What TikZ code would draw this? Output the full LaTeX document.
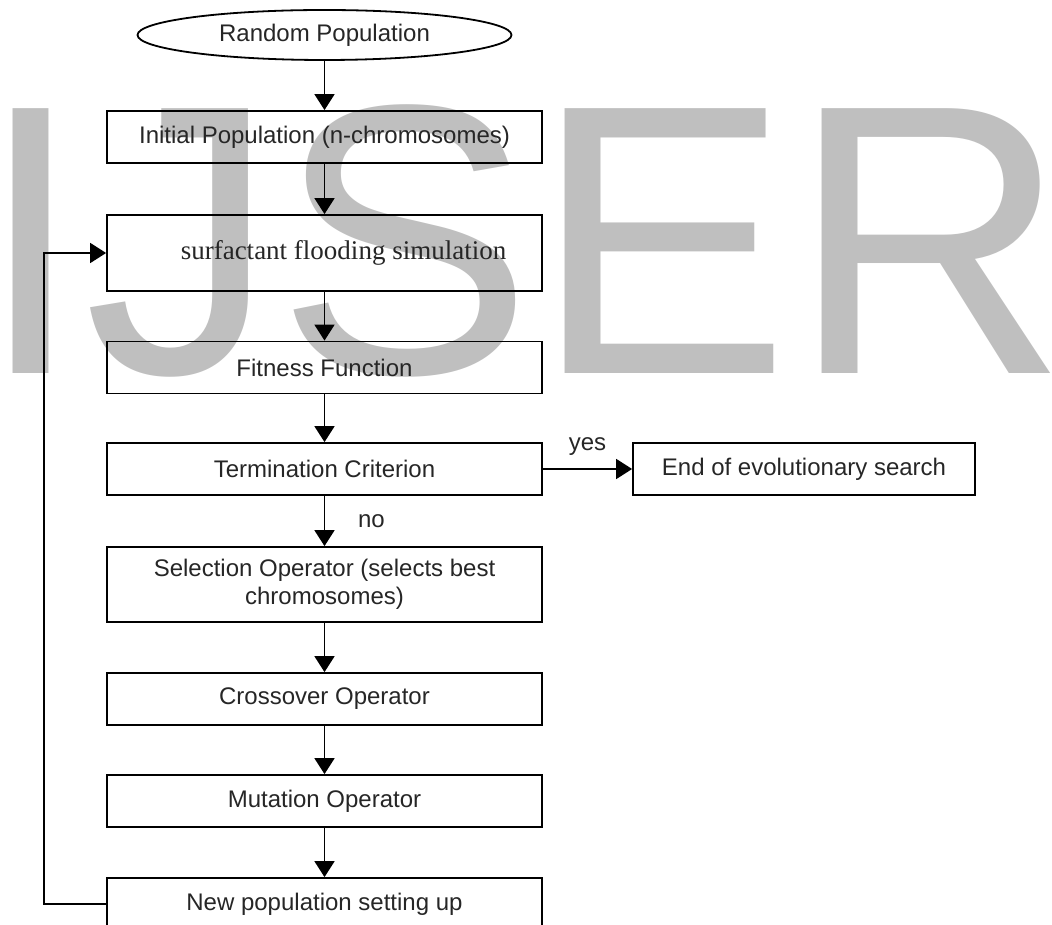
\documentclass[tikz,border=0pt]{standalone}
\usepackage{fontspec}
\setmainfont{Liberation Sans}
\newfontfamily\serifbox{Liberation Serif}
\usepackage{tikz}
\usetikzlibrary{arrows.meta,shapes.geometric}

\definecolor{wmgray}{RGB}{191,191,191}
\definecolor{txtgray}{RGB}{38,38,38}

\tikzset{
  stepbox/.style={draw,line width=0.9pt,minimum width=217.5pt,minimum height=26pt,
    inner sep=0pt,text=txtgray,font=\fontsize{12pt}{14pt}\selectfont},
  lbl/.style={text=txtgray,font=\fontsize{12pt}{14pt}\selectfont},
}

\begin{document}
\begin{tikzpicture}[x=0.5pt,y=0.5pt]
\useasboundingbox (0,0) rectangle (1052,-924);

% watermark behind everything
\node[anchor=base west,inner sep=0pt,text=wmgray,font=\fontsize{192.5pt}{192.5pt}\selectfont] (wm) at (-23,-373) {IJSER};

\begin{scope}[>={Triangle[length=8pt,width=10pt]},line width=0.9pt]

    \node[stepbox,shape=ellipse,minimum width=187pt,minimum height=25pt] (rand) at (324.5,-35) {Random Population};

    \node[stepbox] (init)   at (324.5,-137)   {Initial Population (n-chromosomes)};
    \node[stepbox,minimum height=38pt,font=\serifbox\fontsize{13.5pt}{16pt}\selectfont] (surf) at (324.5,-253) {\hspace*{19pt}surfactant flooding simulation};
    \node[stepbox] (fit)    at (324.5,-367.5) {Fitness Function};
    \node[stepbox] (term)   at (324.5,-469)   {Termination Criterion};
    \node[stepbox,minimum width=171pt] (endsearch) at (804,-469) {End of evolutionary search};
    \node[stepbox,minimum height=37.5pt,align=center] (sel) at (324.5,-584.5) {Selection Operator (selects best\\chromosomes)};
    \node[stepbox] (cross)  at (324.5,-699)   {Crossover Operator};
    \node[stepbox] (mut)    at (324.5,-801)   {Mutation Operator};
    \node[stepbox] (newpop) at (324.5,-904)   {New population setting up};

    \draw[->] (rand) -- (init);
    \draw[->] (init) -- (surf);
    \draw[->] (surf) -- (fit);
    \draw[->] (fit) -- (term);
    \draw[->] (term) -- (endsearch) node[lbl,pos=0.5,above=3pt]{yes};
    \draw[->] (term) -- (sel) node[lbl,pos=0.5,right=13pt]{no};
    \draw[->] (sel) -- (cross);
    \draw[->] (cross) -- (mut);
    \draw[->] (mut) -- (newpop);

    % back to the simulation
    \draw[->] (newpop.west) -- ++(-62,0) |- (surf.west);

\end{scope}
\end{tikzpicture}
\end{document}
